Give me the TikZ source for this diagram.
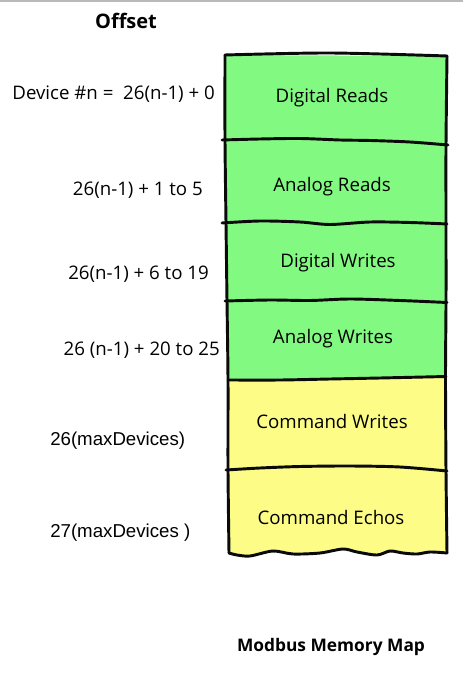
\documentclass[tikz,border=0pt]{standalone}
\usepackage{fontspec}
\setmainfont{Open Sans}
\newfontfamily\plainsans{Liberation Sans}
\usepackage{tikz}
\usetikzlibrary{positioning}
\definecolor{mGreen}{HTML}{82FA82}
\definecolor{mYellow}{HTML}{FCFC86}
\definecolor{mEdge}{HTML}{0A0A0A}

\begin{document}
\begin{tikzpicture}[x=0.75pt,y=-0.75pt,
  wall/.style={draw=mEdge,line width=2.2pt,line cap=round,line join=round},
  cell/.style={font=\fontsize{14}{16}\selectfont,anchor=base,inner sep=0pt},
  offs/.style={font=\fontsize{14}{16}\selectfont,anchor=base east,inner sep=0pt},
  maxoffs/.style={font=\plainsans\fontsize{14}{16}\selectfont,anchor=base west,inner sep=0pt},
  heading/.style={font=\bfseries\fontsize{13}{15}\selectfont,anchor=base,inner sep=0pt}
]
\useasboundingbox (0,0) rectangle (463,680);
\draw[gray!55,line width=1.2pt] (0,0.8) -- (463,0.8);

% fills
\fill[mGreen] (225,55) -- (447,56) -- (446,377) -- (228,380) -- cycle;
\fill[mYellow] (228,380) -- (446,377) -- (447,553)
  -- plot[smooth] coordinates {(443,553) (430,552) (417,554) (403,553) (390,551) (377,555) (357,552) (343,549) (320,553) (293,554) (273,551) (250,556) (237,555) (229,553)}
  -- cycle;

% outline
\draw[wall] plot[smooth] coordinates {(225,55) (330,53) (447,56)};
\draw[wall] plot[smooth] coordinates {(225,55) (225,140) (226,223) (227,301) (228,380) (228,470) (229,553)};
\draw[wall] plot[smooth] coordinates {(447,56) (446,145) (446,224) (446,302) (445.5,377) (446,471) (447,553)};
\draw[wall] plot[smooth] coordinates {(229,553) (237,555) (250,556) (273,551) (293,554) (320,553) (343,549) (357,552) (377,555) (390,551) (403,553) (417,554) (430,552) (447,553)};

% dividers
\draw[wall] plot[smooth] coordinates {(222,140) (260,139) (300,138.5) (340,140) (370,140.5) (410,142) (448,145)};
\draw[wall] plot[smooth] coordinates {(222,223) (260,221) (300,222) (330,224.5) (370,222) (410,222.5) (447,224)};
\draw[wall] plot[smooth] coordinates {(225,301) (270,300) (310,300.5) (350,299) (400,300.5) (447,302.5)};
\draw[wall] plot[smooth] coordinates {(228,380) (280,380) (330,379) (380,378) (446,376.5)};
\draw[wall] plot[smooth] coordinates {(226,470) (260,468) (300,466.5) (350,466) (400,467) (447,471)};

% cell labels
\node[cell] (dr) at (332,103) {Digital Reads};
\node[cell] (ar) at (332,192) {Analog Reads};
\node[cell] (dw) at (338,268) {Digital Writes};
\node[cell] (aw) at (333,343) {Analog Writes};
\node[cell] (cw) at (332,428) {Command Writes};
\node[cell] (ce) at (331,524) {Command Echos};

% offsets
\node[heading,font=\bfseries\fontsize{15}{17}\selectfont] (offset) at (126,29) {Offset};
\node[offs] (dev0) at (215,100) {Device \#n =\ \ 26(n-1) + 0};
\node[offs] (dev1) at (203,196) {26(n-1) + 1 to 5};
\node[offs] (dev2) at (209,280) {26(n-1) + 6 to 19};
\node[offs] (dev3) at (220,355) {26 (n-1) + 20 to 25};
\node[maxoffs] (max1) at (50,445) {26(maxDevices)};
\node[maxoffs] (max2) at (50,537) {27(maxDevices )};

\node[heading] (title) at (331,651) {Modbus Memory Map};
\end{tikzpicture}
\end{document}
